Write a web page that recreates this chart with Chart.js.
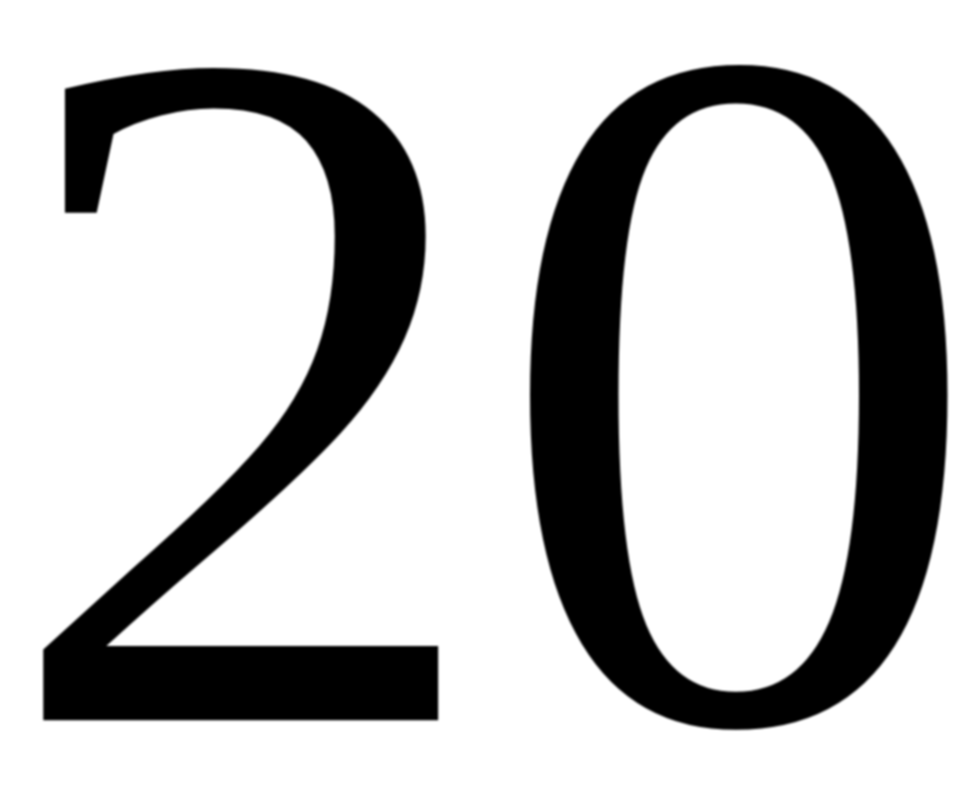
<!DOCTYPE html>
<html>
<head>
<meta charset="utf-8">
<title>20</title>
<script src="https://cdn.jsdelivr.net/npm/chart.js@4/dist/chart.umd.min.js"></script>
<style>
  html, body { margin: 0; padding: 0; background: #fff; }
  #wrap { width: 960px; height: 800px; overflow: hidden; }
  /* the reference is an enlarged crop, so its edges are soft */
  #chart { filter: blur(1.2px); }
</style>
</head>
<body>
<div id="wrap"><canvas id="chart" width="960" height="800"></canvas></div>
<script>
// the picture is a close crop of one tick label, nothing else of the chart shows
const categories = ["20"];
const values = [];
const tickLabels = ["20"];

const ctx = document.getElementById("chart").getContext("2d");
new Chart(ctx, {
    type: "bar",
    data: {
        labels: categories,
        datasets: [{ data: values, backgroundColor: "transparent" }],
    },
    options: {
        responsive: false,
        animation: false,
        // negative padding lets the label run past the top and right edge, as in the crop
        layout: { padding: { left: 0, right: -80, top: -41, bottom: 0 } },
        scales: {
            x: { display: false },
            y: { display: false },
        },
        plugins: {
            legend: { display: false },
            tooltip: { enabled: false },
            title: {
                display: true,
                text: tickLabels[0],
                align: "start",
                color: "#000",
                padding: { top: 10, bottom: 0 },
                font: {
                    family: '"Liberation Serif"',
                    size: 985,
                    weight: "normal",
                    lineHeight: 1,
                },
            },
        },
    },
});
</script>
</body>
</html>
